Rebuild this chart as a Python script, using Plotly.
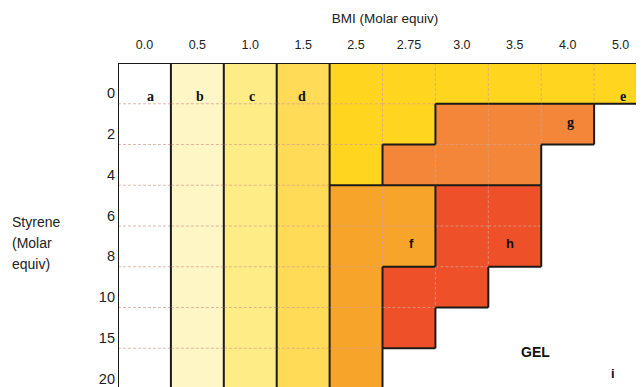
import plotly.graph_objects as go

# ---- data ----
bmi_labels = ["0.0", "0.5", "1.0", "1.5", "2.5", "2.75", "3.0", "3.5", "4.0", "5.0"]
styrene_labels = ["0", "2", "4", "6", "8", "10", "15", "20"]
# region of each (styrene row, BMI column) cell
region_rows = [
    "abcdeeeeee",
    "abcdeegggi",
    "abcdegggii",
    "abcdffhhii",
    "abcdffhhii",
    "abcdfhhiii",
    "abcdfhiiii",
    "abcdfiiiii",
]
region_names = ["a", "b", "c", "d", "e", "f", "g", "h", "i"]
region_colors = ["#FFFFFF", "#FFF6C6", "#FEED86", "#FFDB58", "#FFD51F",
                 "#F7A42B", "#F4863A", "#EE5129", "#FFFFFF"]
# label placements (letter, BMI position, styrene position)
label_text = ["a", "b", "c", "d", "e", "g", "f", "h", "GEL", "i"]
label_x = [0.12, 1.05, 2.03, 2.98, 9.05, 8.06, 5.04, 6.91, 7.40, 8.86]
label_y = [0.31, 0.31, 0.31, 0.31, 0.33, 0.97, 3.94, 3.94, 6.59, 7.13]

# ---- build ----
n_r = len(styrene_labels)
n_c = len(bmi_labels)
z = [[region_names.index(ch) for ch in row] for row in region_rows]
nreg = len(region_names)
colorscale = []
for k, col in enumerate(region_colors):
    colorscale.append([k / nreg, col])
    colorscale.append([(k + 1) / nreg, col])

fig = go.Figure()
fig.add_trace(go.Heatmap(
    z=z, x=list(range(n_c)), y=list(range(n_r)),
    zmin=0, zmax=nreg, colorscale=colorscale, showscale=False,
    hoverinfo="skip", xgap=0, ygap=0,
))

dash_shapes = []
solid_shapes = []
line_solid = dict(color="#1c1a17", width=2)
line_dash = dict(color="rgba(214,160,140,0.75)", width=1, dash="3px,2px")
for r in range(n_r):
    for c in range(n_c):
        reg = region_rows[r][c]
        if c + 1 < n_c:
            nb = region_rows[r][c + 1]
            seg = dict(type="line", xref="x", yref="y",
                       x0=c + 0.5, x1=c + 0.5, y0=r - 0.5, y1=r + 0.5)
            if nb != reg:
                solid_shapes.append(dict(seg, line=line_solid))
            elif reg != "i":
                dash_shapes.append(dict(seg, line=line_dash))
        if r + 1 < n_r:
            nb = region_rows[r + 1][c]
            seg = dict(type="line", xref="x", yref="y",
                       x0=c - 0.5, x1=c + 0.5, y0=r + 0.5, y1=r + 0.5)
            if nb != reg:
                solid_shapes.append(dict(seg, line=line_solid))
            elif reg != "i":
                dash_shapes.append(dict(seg, line=line_dash))
# outer top and left borders
solid_shapes.append(dict(type="line", xref="x", yref="y", x0=-0.5, x1=n_c - 0.5,
                         y0=-0.5, y1=-0.5, line=line_solid))
solid_shapes.append(dict(type="line", xref="x", yref="y", x0=-0.5, x1=-0.5,
                         y0=-0.5, y1=n_r - 0.5, line=line_solid))

annotations = []
for t, x, y in zip(label_text, label_x, label_y):
    if t in ("GEL", "i", "f", "h"):
        fnt = dict(family="Liberation Sans, Arial", size=14 if t == "GEL" else 13,
                   color="#111")
    else:
        fnt = dict(family="Liberation Serif, Times New Roman", size=14, color="#111")
    annotations.append(dict(text="<b>%s</b>" % t, x=x, y=y, xref="x", yref="y",
                            showarrow=False, font=fnt))
for line_txt, py in zip(["Styrene", "(Molar", "equiv)"], [0.521, 0.458, 0.395]):
    annotations.append(dict(
        text=line_txt, xref="paper", yref="paper",
        x=-0.2022, y=py, xanchor="left", yanchor="middle", align="left",
        showarrow=False, font=dict(family="Liberation Sans, Arial", size=14, color="#222"),
    ))

fig.update_layout(
    width=644, height=387,
    margin=dict(l=110, r=0, t=55, b=0),
    paper_bgcolor="white", plot_bgcolor="white",
    shapes=dash_shapes + solid_shapes,
    annotations=annotations,
    showlegend=False,
    xaxis=dict(
        side="top", range=[-0.5, 9.594], tickmode="array",
        tickvals=list(range(n_c)), ticktext=bmi_labels,
        showgrid=False, zeroline=False, showline=False, ticks="",
        ticklabelstandoff=11,
        tickfont=dict(family="Liberation Sans, Arial", size=12.5, color="#222"),
        title=dict(text="BMI (Molar equiv)", standoff=10,
                   font=dict(family="Liberation Sans, Arial", size=13.5, color="#222")),
        fixedrange=True,
    ),
    yaxis=dict(
        range=[7.647, -0.5], tickmode="array",
        tickvals=list(range(n_r)), ticktext=styrene_labels,
        showgrid=False, zeroline=False, showline=False, ticks="",
        ticklabelshift=-10, ticklabelstandoff=2,
        tickfont=dict(family="Liberation Sans, Arial", size=14.5, color="#222"),
        fixedrange=True,
    ),
)

fig.write_html("out.html")
